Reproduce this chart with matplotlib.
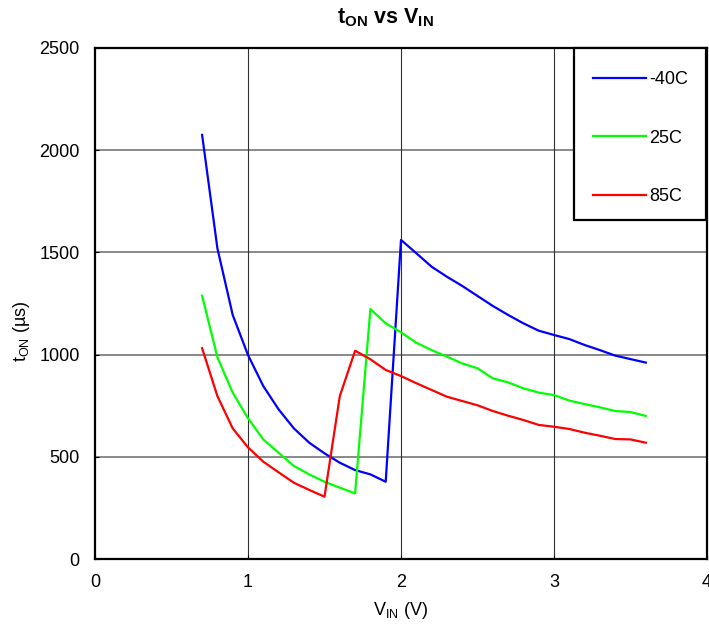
import matplotlib
matplotlib.use('Agg')
import matplotlib.pyplot as plt
from matplotlib.patches import Rectangle

plt.rcParams['font.family'] = ['Liberation Sans', 'DejaVu Sans']
plt.rcParams['mathtext.fontset'] = 'custom'
plt.rcParams['mathtext.rm'] = 'Liberation Sans'
plt.rcParams['mathtext.it'] = 'Liberation Sans'
plt.rcParams['mathtext.bf'] = 'Liberation Sans:bold'

# input voltage (V)
vin = [0.7, 0.8, 0.9, 1.0, 1.1, 1.2, 1.3, 1.4, 1.5, 1.6, 1.7, 1.8, 1.9, 2.0,
       2.1, 2.2, 2.3, 2.4, 2.5, 2.6, 2.7, 2.8, 2.9, 3.0, 3.1, 3.2, 3.3, 3.4, 3.5, 3.6]

# on time (us) for each temperature
ton_m40 = [2075, 1520, 1194, 998, 846, 732, 639, 569, 517, 471, 435, 414, 378, 1561,
           1496, 1430, 1381, 1336, 1287, 1238, 1194, 1153, 1117, 1096, 1076, 1047, 1022, 995, 978, 961]
ton_25 = [1288, 987, 814, 688, 585, 520, 455, 414, 378, 349, 321, 1223, 1153, 1109,
          1058, 1022, 990, 957, 933, 884, 864, 835, 814, 802, 775, 758, 742, 724, 719, 700]
ton_85 = [1031, 797, 639, 546, 476, 424, 373, 338, 305, 797, 1019, 977, 925, 895,
          860, 827, 794, 773, 752, 724, 701, 680, 656, 647, 636, 618, 603, 587, 585, 569]

labels = ['-40C', '25C', '85C']
colors = ['#0000ff', '#00ff00', '#ff0000']

fig = plt.figure(figsize=(7.09, 6.25), dpi=100)
ax = fig.add_axes([95 / 709, 66 / 625, 612 / 709, 511 / 625])

for y, lab, c in zip([ton_m40, ton_25, ton_85], labels, colors):
    ax.plot(vin, y, color=c, lw=1.6, label=lab, zorder=3)

ax.set_xlim(0, 4)
ax.set_ylim(0, 2500)
ax.set_xticks([0, 1, 2, 3, 4])
ax.set_yticks([0, 500, 1000, 1500, 2000, 2500])

# grid: gray horizontal, dark vertical
for yv in [500, 1000, 1500, 2000]:
    ax.axhline(yv, color='#808080', lw=1.3, zorder=1)
for xv in [1, 2, 3]:
    ax.axvline(xv, color='#303030', lw=0.8, zorder=1)

for s in ax.spines.values():
    s.set_linewidth(1.6)
    s.set_color('black')

ax.tick_params(direction='in', length=3, width=0.8, labelsize=13, pad=11)

ax.set_xlabel(r'V$_{\mathregular{IN}}$ (V)', fontsize=13, labelpad=6)
ax.set_ylabel(r't$_{\mathregular{ON}}$ (µs)', fontsize=13)
ax.yaxis.set_label_coords(-0.103, 0.446)
fig.text(385 / 709, 1 - 18 / 625, r'$\mathbf{t_{ON}\ vs\ V_{IN}}$', fontsize=15.5,
         ha='center', va='center')

# legend box drawn separately so its size can match
box = Rectangle((0.7827, 0.6634), 0.2157, 0.3366, transform=ax.transAxes,
                facecolor='white', edgecolor='black', lw=1.6, zorder=4, clip_on=False)
ax.add_patch(box)
leg = ax.legend(loc='upper right', bbox_to_anchor=(1.0, 0.992), borderaxespad=0,
                fontsize=13, handlelength=2.9, handletextpad=0.2, labelspacing=2.3,
                borderpad=1.05, frameon=False)
leg.set_zorder(5)

plt.savefig('out.png', dpi=100)
